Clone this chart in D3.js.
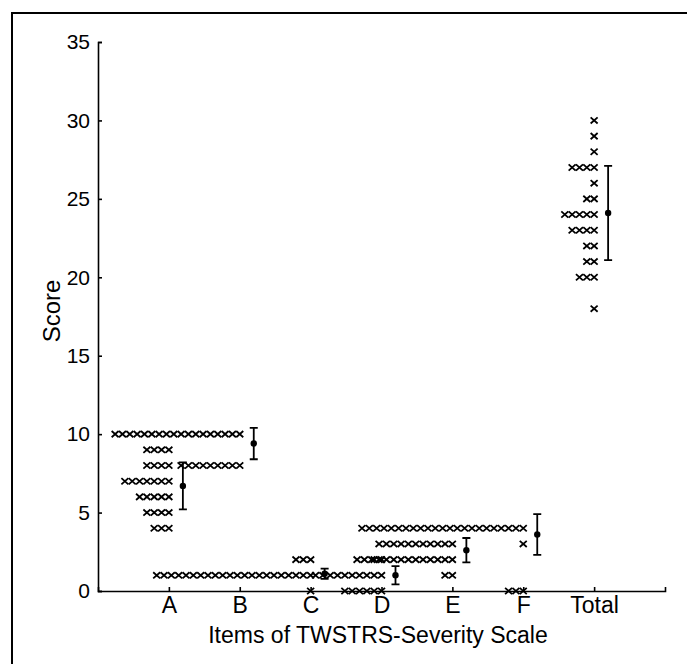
<!DOCTYPE html>
<html>
<head>
<meta charset="utf-8">
<script src="https://cdn.jsdelivr.net/npm/d3@7"></script>
<style>
body { margin: 0; background: #fff; }
text { font-family: "Liberation Sans", Arial, Helvetica, sans-serif; }
</style>
</head>
<body>
<svg id="chart" width="687" height="664"></svg>
<script>
// items of the scale
var categories = ["A", "B", "C", "D", "E", "F", "Total"];

// [score, number of patients] for each item
var itemA = [[9, 4], [8, 4], [7, 7], [6, 5], [5, 4], [4, 3]];
var itemB = [[10, 18], [8, 9]];
var itemC = [[2, 3], [1, 22], [0, 1]];
var itemD = [[2, 2], [1, 10], [0, 6]];
var itemE = [[3, 11], [2, 14], [1, 2]];
var itemF = [[4, 23], [3, 1], [0, 3]];
var itemTotal = [[30, 1], [29, 1], [28, 1], [27, 4], [26, 1], [25, 2], [24, 5],
                 [23, 4], [22, 2], [21, 2], [20, 3], [18, 1]];
var counts = [itemA, itemB, itemC, itemD, itemE, itemF, itemTotal];

// mean and SD as drawn
var means = [6.7, 9.4, 1.1, 1.0, 2.6, 3.6, 24.1];
var sds = [1.5, 1.0, 0.33, 0.58, 0.78, 1.3, 3.0];

var yTicks = [0, 5, 10, 15, 20, 25, 30, 35];

var svg = d3.select("#chart");

var x = d3.scalePoint().domain(categories).range([98, 665]).padding(1);
var y = d3.scaleLinear().domain([0, 35]).range([591, 42]);

var gap = 7.33;   // spacing between stacked markers
var barOff = 14;  // error bar sits right of the tick

// scan frame
svg.append("path")
    .attr("d", "M12,664V13H687")
    .attr("fill", "none")
    .attr("stroke", "#000")
    .attr("stroke-width", 2);

// axes
var xAxis = svg.append("g")
    .attr("transform", "translate(0,591)")
    .call(d3.axisBottom(x).tickSize(-4).tickSizeOuter(-4).tickPadding(6));

var yAxis = svg.append("g")
    .attr("transform", "translate(98,0)")
    .call(d3.axisLeft(y).tickValues(yTicks).tickSize(-4).tickSizeOuter(-4).tickPadding(8));

xAxis.attr("font-size", 23);
yAxis.attr("font-size", 21);
[xAxis, yAxis].forEach(function(g){
    g.selectAll("path,line").attr("stroke", "#000").attr("stroke-width", 1.6);
    g.selectAll("text").attr("fill", "#000");
});

// axis titles
svg.append("text")
    .attr("x", 378)
    .attr("y", 643)
    .attr("text-anchor", "middle")
    .attr("font-size", 23)
    .text("Items of TWSTRS-Severity Scale");

svg.append("text")
    .attr("transform", "translate(60,311) rotate(-90)")
    .attr("text-anchor", "middle")
    .attr("font-size", 24)
    .text("Score");

// one marker per patient, stacked leftwards from the tick
var marks = [];
counts.forEach(function(rows, ci){
    rows.forEach(function(r){
        for (var i = 0; i < r[1]; i++) {
            marks.push({cat: categories[ci], value: r[0], i: i});
        }
    });
});

svg.append("g").selectAll("path")
    .data(marks)
    .enter().append("path")
    .attr("transform", function(d){
        return "translate(" + (x(d.cat) - d.i * gap) + "," + y(d.value) + ")";
    })
    .attr("d", "M-3.5,-3.1L3.5,3.1M-3.5,3.1L3.5,-3.1")
    .attr("fill", "none")
    .attr("stroke", "#000")
    .attr("stroke-width", 1.8);

// mean +/- SD
var bars = svg.append("g").selectAll("g")
    .data(categories)
    .enter().append("g")
    .attr("transform", function(d){ return "translate(" + (x(d) + barOff) + ",0)"; });

bars.append("path")
    .attr("d", function(d, i){
        var lo = y(means[i] - sds[i]), hi = y(means[i] + sds[i]);
        return "M0," + lo + "V" + hi + "M-4,"+ lo + "H4M-4," + hi + "H4";
    })
    .attr("fill", "none")
    .attr("stroke", "#000")
    .attr("stroke-width", 1.8);

bars.append("circle")
    .attr("cy", function(d, i){ return y(means[i]); })
    .attr("r", 3.2)
    .attr("fill", "#000");
</script>
</body>
</html>
